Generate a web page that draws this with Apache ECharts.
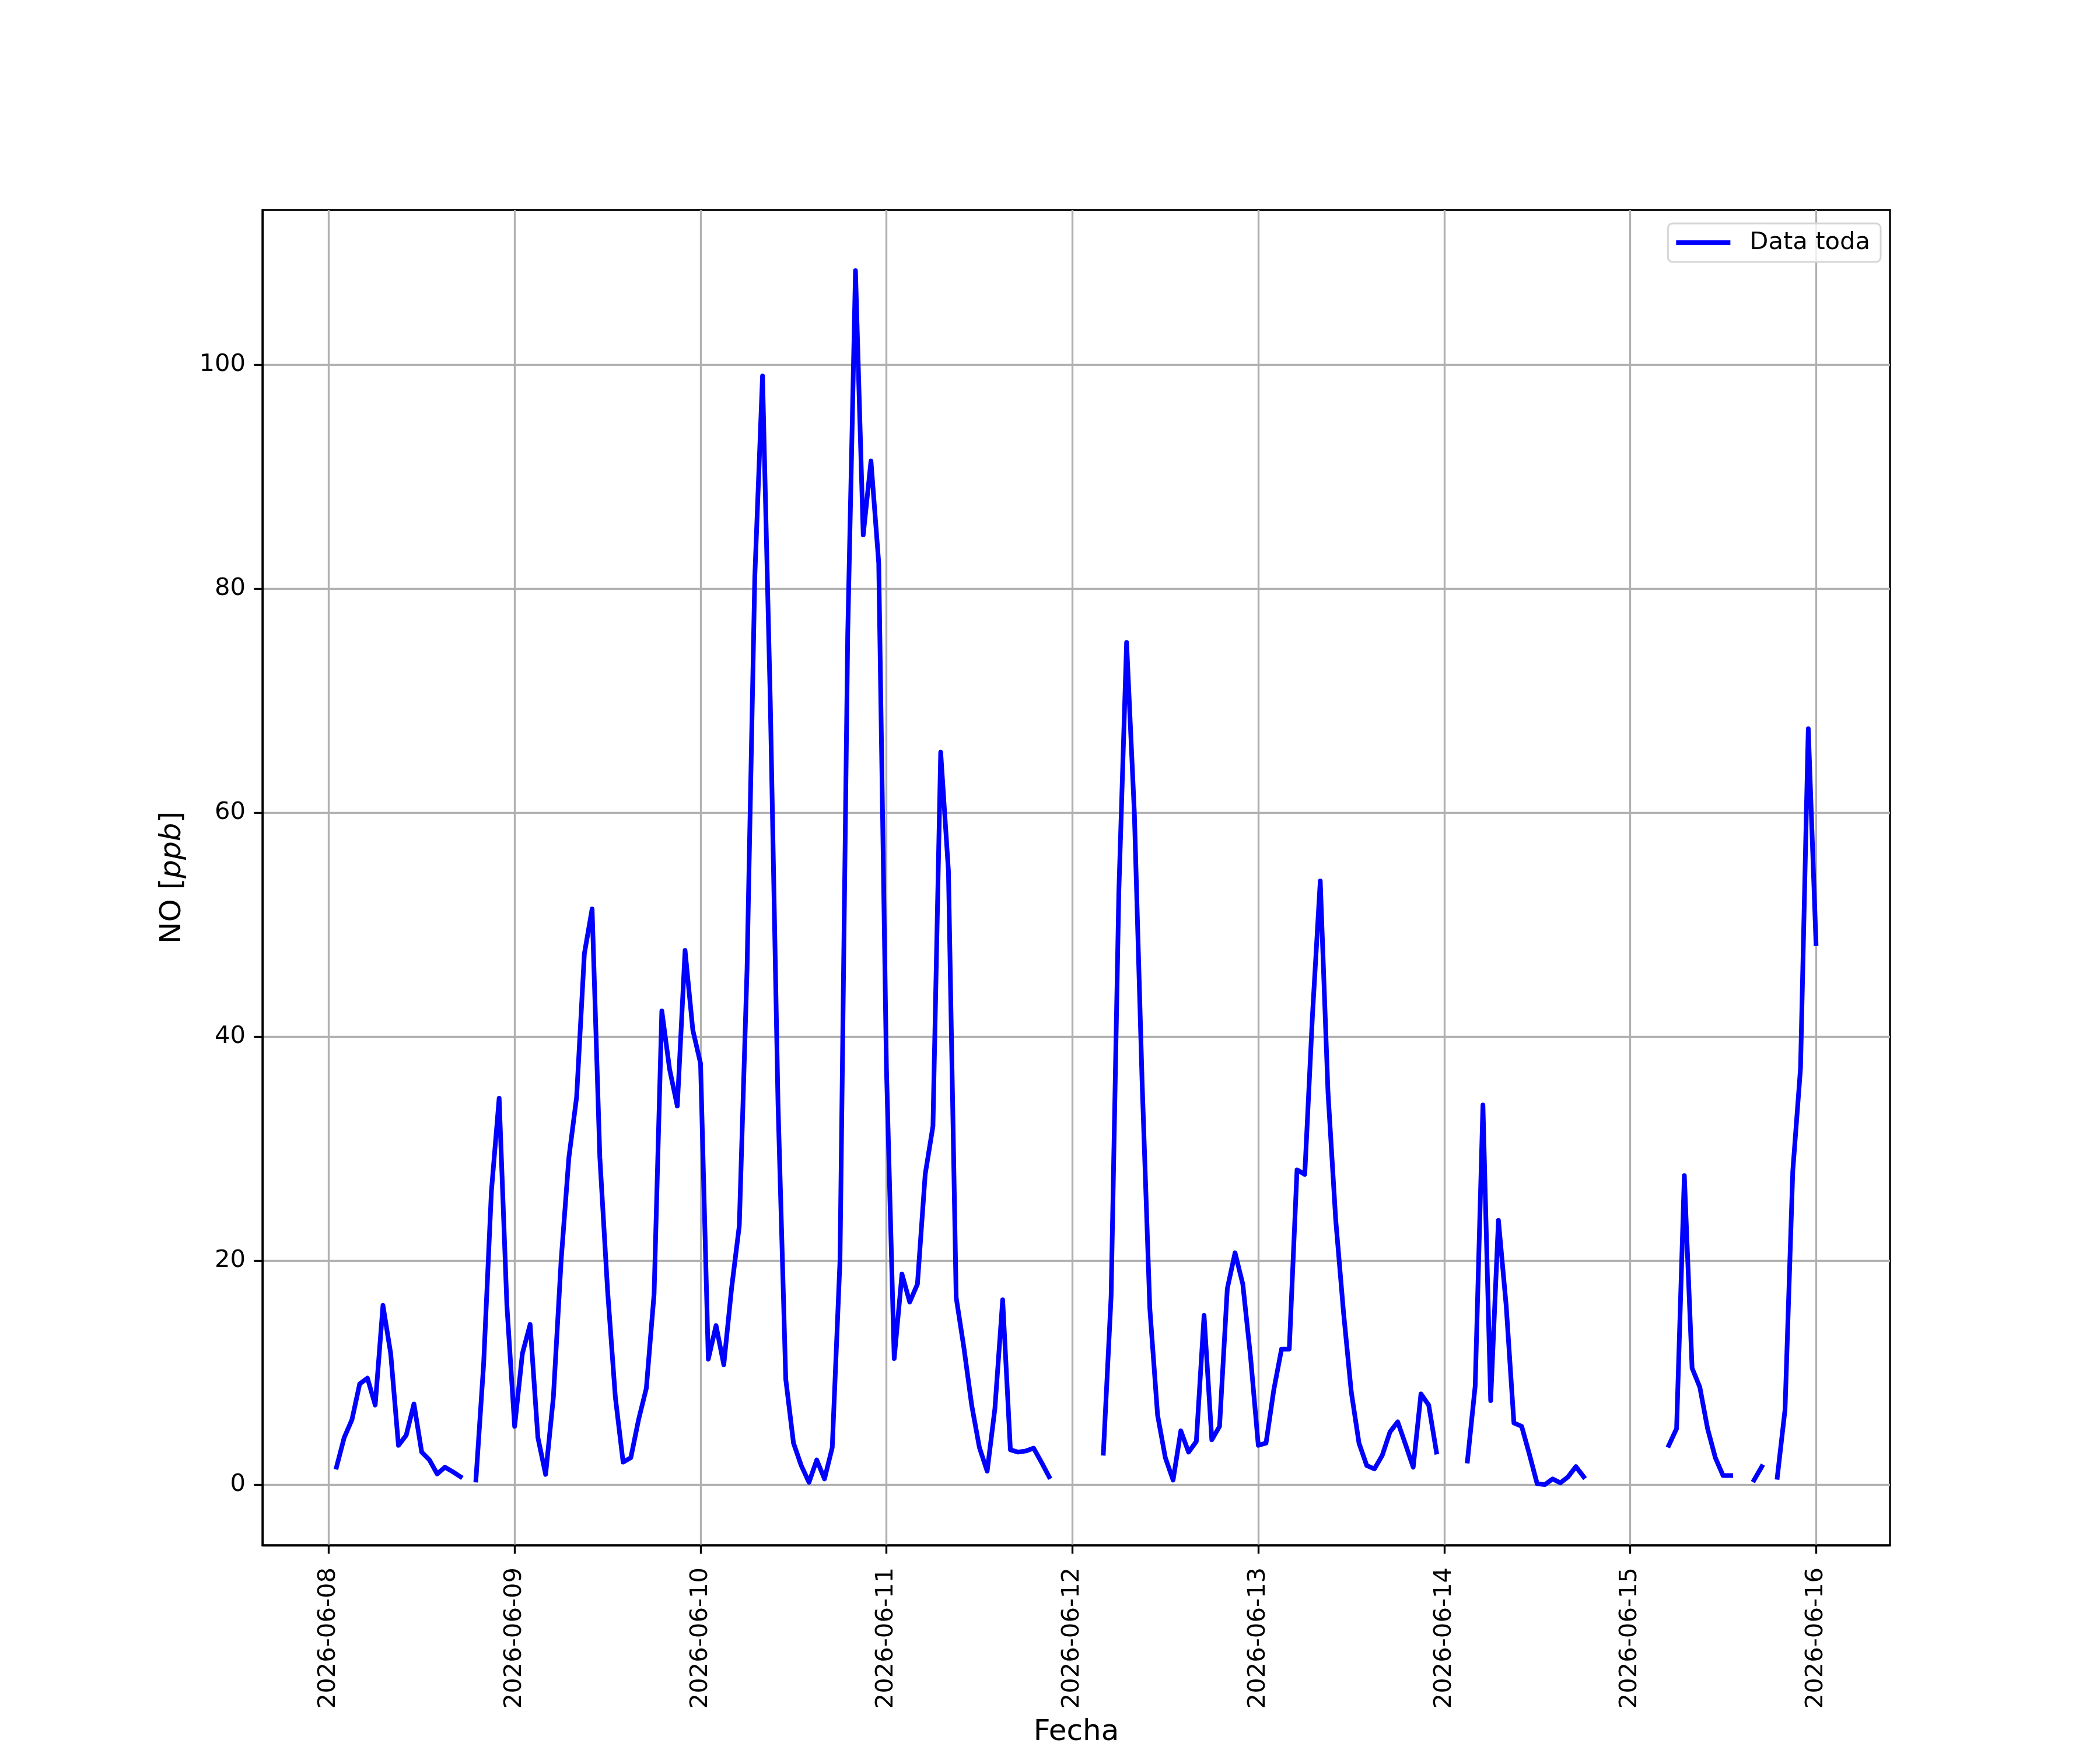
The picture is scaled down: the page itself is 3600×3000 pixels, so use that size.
<!DOCTYPE html>
<html>
<head>
<meta charset="utf-8">
<script src="https://cdn.jsdelivr.net/npm/echarts@6/dist/echarts.min.js"></script>
<style>
  html, body { margin: 0; padding: 0; background: #ffffff; }
  #chart { width: 3600px; height: 3000px; }
</style>
</head>
<body>
<div id="chart"></div>
<script>
// ---- data ----
// x tick positions (hours since 2026-06-08 00:00) and their labels
const tickHours = [0, 24, 48, 72, 96, 120, 144, 168, 192];
const tickLabels = ['2026-06-08', '2026-06-09', '2026-06-10', '2026-06-11', '2026-06-12',
                    '2026-06-13', '2026-06-14', '2026-06-15', '2026-06-16'];
const yTicks = [0, 20, 40, 60, 80, 100];
// hourly samples: hour 1 .. 192 after 2026-06-08 00:00
const sampleHours = Array.from({ length: 192 }, (_, i) => i + 1);
// NO [ppb] readings (null = missing)
const noValues = [
  // 06-08
  1.55, 4.2, 5.8, 9.0, 9.5, 7.1, 16.0, 11.7, 3.5, 4.4, 7.2, 2.9, 2.2, 0.95, 1.55, 1.15, 0.7, null, 0.4, 10.8, 26.2, 34.5, 16.0, 5.2,
  // 06-09
  11.7, 14.3, 4.2, 0.9, 7.8, 20.0, 29.2, 34.6, 47.4, 51.4, 29.2, 17.3, 7.8, 2.0, 2.4, 5.8, 8.6, 17.0, 42.3, 37.1, 33.8, 47.7, 40.6, 37.6,
  // 06-10
  11.2, 14.2, 10.7, 17.5, 23.1, 46, 81, 99.0, 70, 34, 9.4, 3.7, 1.7, 0.2, 2.2, 0.5, 3.3, 20.0, 76, 108.4, 84.8, 91.4, 82.3, 37.1,
  // 06-11
  11.25, 18.8, 16.3, 17.9, 27.7, 32.0, 65.4, 54.8, 16.7, 12.2, 7.1, 3.3, 1.2, 6.8, 16.5, 3.1, 2.9, 3.0, 3.25, 2.0, 0.7, null, null, null,
  // 06-12
  null, null, null, 2.8, 16.8, 53, 75.2, 60, 36, 15.7, 6.2, 2.4, 0.4, 4.8, 2.9, 3.85, 15.1, 4.0, 5.2, 17.5, 20.7, 17.9, 11.4, 3.5,
  // 06-13
  3.7, 8.45, 12.1, 12.1, 28.1, 27.7, 42, 53.9, 35, 23.6, 15.4, 8.3, 3.7, 1.7, 1.4, 2.6, 4.7, 5.6, 3.6, 1.55, 8.1, 7.1, 2.9, null,
  // 06-14
  null, null, 2.1, 8.8, 33.9, 7.5, 23.6, 16.0, 5.5, 5.2, 2.7, 0.07, 0.0, 0.5, 0.15, 0.7, 1.6, 0.7, null, null, null, null, null, null,
  // 06-15
  null, null, null, null, 3.5, 5.0, 27.6, 10.4, 8.7, 5.0, 2.4, 0.8, 0.8, null, null, 0.4, 1.6, null, 0.65, 6.7, 28.0, 37.2, 67.5, 48.3
];

// ---- chart ----
const FONT = 'DejaVu Sans';
const TICK_FS = 41.7;
const LABEL_FS = 50;
const LW = 3.33;
const DATA_LW = 8;

const seriesData = sampleHours.map((h, i) => [h, noValues[i] === null ? '-' : noValues[i]]);

const chart = echarts.init(document.getElementById('chart'), null, { renderer: 'canvas', devicePixelRatio: 1 });

chart.setOption({
  animation: false,
  backgroundColor: '#ffffff',
  textStyle: { fontFamily: FONT },
  grid: {
    left: 450, right: 360, top: 360, bottom: 330,
    show: true, borderColor: '#000000', borderWidth: LW, backgroundColor: 'transparent'
  },
  legend: {
    show: true,
    data: ['Data toda'],
    right: 376, top: 383,
    orient: 'horizontal',
    icon: 'rect',
    itemWidth: 93, itemHeight: DATA_LW,
    padding: [12, 18, 12, 14],
    backgroundColor: 'rgba(255,255,255,0.8)',
    borderColor: '#d6d6d6', borderWidth: 3, borderRadius: 8,
    itemStyle: { color: '#0000ff', borderWidth: 0 },
    textStyle: { fontFamily: FONT, fontSize: TICK_FS, color: '#000000', padding: [0, 0, 0, 28] }
  },
  xAxis: {
    type: 'value',
    min: -8.55, max: 201.55,
    name: 'Fecha',
    nameLocation: 'middle',
    nameGap: 296,
    nameTextStyle: { fontFamily: FONT, fontSize: LABEL_FS, color: '#000000', verticalAlign: 'top', lineHeight: 50 },
    axisLine: { show: true, onZero: false, lineStyle: { color: '#000000', width: LW } },
    axisTick: { show: true, inside: false, length: 14.6, lineStyle: { color: '#000000', width: LW }, customValues: tickHours },
    axisLabel: {
      show: true, rotate: 90, margin: 38,
      fontFamily: FONT, fontSize: TICK_FS, color: '#000000',
      customValues: tickHours,
      formatter: (v) => { const k = tickHours.indexOf(Math.round(v)); return k >= 0 ? tickLabels[k] : ''; }
    },
    splitLine: { show: true, lineStyle: { color: '#b0b0b0', width: LW }, customValues: tickHours }
  },
  yAxis: {
    type: 'value',
    min: -5.42, max: 113.82,
    name: '{n|NO [}{i|ppb}{n|]}',
    nameLocation: 'middle',
    nameGap: 129,
    nameRotate: 90,
    nameTextStyle: {
      fontFamily: FONT, fontSize: LABEL_FS, color: '#000000',
      rich: {
        n: { fontFamily: FONT, fontSize: LABEL_FS, color: '#000000' },
        i: { fontFamily: FONT, fontSize: LABEL_FS, color: '#000000', fontStyle: 'italic' }
      }
    },
    axisLine: { show: true, onZero: false, lineStyle: { color: '#000000', width: LW } },
    axisTick: { show: true, inside: false, length: 14.6, lineStyle: { color: '#000000', width: LW }, customValues: yTicks },
    axisLabel: {
      show: true, margin: 29,
      fontFamily: FONT, fontSize: TICK_FS, color: '#000000',
      customValues: yTicks,
      formatter: (v) => String(Math.round(v))
    },
    splitLine: { show: true, lineStyle: { color: '#b0b0b0', width: LW }, customValues: yTicks }
  },
  series: [{
    name: 'Data toda',
    type: 'line',
    data: seriesData,
    symbol: 'none',
    showSymbol: false,
    connectNulls: false,
    smooth: false,
    lineStyle: { color: '#0000ff', width: DATA_LW, cap: 'square', join: 'round' },
    itemStyle: { color: '#0000ff' },
    z: 3
  }]
});
</script>
</body>
</html>
